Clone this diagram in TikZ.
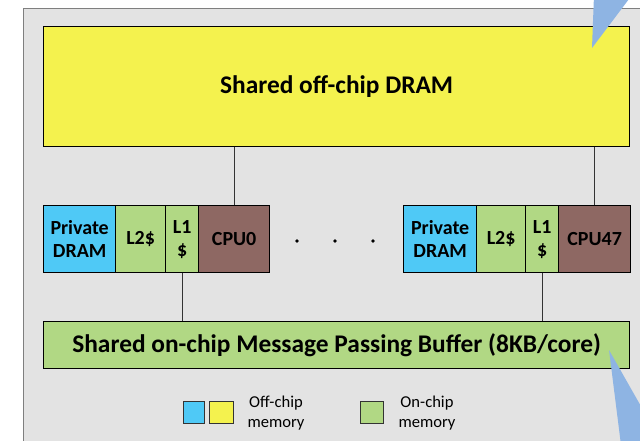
\documentclass[tikz,border=0pt]{standalone}
\usepackage{fontspec}
\setmainfont{Carlito}
\definecolor{bgray}{HTML}{E3E3E3}
\definecolor{frame}{HTML}{7F7F7F}
\definecolor{dramyellow}{HTML}{F4F24E}
\definecolor{privblue}{HTML}{4FC9F6}
\definecolor{cachegreen}{HTML}{B1D884}
\definecolor{cpubrown}{HTML}{8E6863}
\definecolor{callout}{HTML}{8EB4E3}
\tikzset{
  blk/.style={draw=black, line width=1.3pt, inner sep=0pt, anchor=north west, align=center},
  lbl/.style={font=\fontsize{20}{23}\selectfont\bfseries},
  big/.style={font=\fontsize{25.4}{29}\selectfont\bfseries},
  legtxt/.style={font=\fontsize{16.6}{20}\selectfont, align=center},
  swatch/.style={draw=black!80, line width=0.8pt, inner sep=0pt, anchor=north west},
  link/.style={draw=black!80, line width=1pt}
}
\begin{document}
\begin{tikzpicture}[x=1pt,y=-1pt]
\useasboundingbox (0,0) rectangle (640,440);
\clip (0,0) rectangle (640,440);
% chip enclosure
\fill[bgray] (23,8) rectangle (660,460);
\draw[frame, line width=1pt] (660,8) -- (23,8) -- (23,460);

% shared DRAM
\node[blk, fill=dramyellow, minimum width=586pt, minimum height=120pt, big] (dram) at (43,26) {Shared off-chip DRAM};

% core 0
\node[blk, fill=privblue, minimum width=72pt, minimum height=67pt, lbl] (pd0) at (43,205) {Private\\DRAM};
\node[blk, fill=cachegreen, minimum width=50pt, minimum height=67pt, lbl] (ltwo0) at (115,205) {L2\$};
\node[blk, fill=cachegreen, minimum width=33pt, minimum height=67pt, lbl] (lone0) at (165,205) {L1\\\$};
\node[blk, fill=cpubrown, minimum width=71pt, minimum height=67pt, lbl] (cpu0) at (198,205) {CPU0};

% core 47
\node[blk, fill=privblue, minimum width=73pt, minimum height=67pt, lbl] (pd47) at (403,205) {Private\\DRAM};
\node[blk, fill=cachegreen, minimum width=49pt, minimum height=67pt, lbl] (ltwo47) at (476,205) {L2\$};
\node[blk, fill=cachegreen, minimum width=33pt, minimum height=67pt, lbl] (lone47) at (525,205) {L1\\\$};
\node[blk, fill=cpubrown, minimum width=72pt, minimum height=67pt, lbl] (cpu47) at (558,205) {CPU47};

% ellipsis between the cores
\foreach \x/\n in {297/da,335/db,373/dc}
  \node[circle, fill=black, inner sep=0pt, minimum size=3.6pt] (\n) at (\x,241) {};

% message passing buffer
\node[blk, fill=cachegreen, minimum width=586pt, minimum height=47pt, big] (mpb) at (43,321) {Shared on-chip Message Passing Buffer (8KB/core)};

% connections
\draw[link] (cpu0.north) -- (cpu0.north |- dram.south);
\draw[link] (cpu47.north) -- (cpu47.north |- dram.south);
\draw[link] (lone0.south) -- (lone0.south |- mpb.north);
\draw[link] (lone47.south) -- (lone47.south |- mpb.north);

% legend
\node[swatch, fill=privblue, minimum width=21pt, minimum height=22pt] (swb) at (183,401) {};
\node[swatch, fill=dramyellow, minimum width=24pt, minimum height=22pt] (swy) at (209,401) {};
\node[legtxt] (offtxt) at (276,413) {Off-chip\\memory};
\node[swatch, fill=cachegreen, minimum width=23pt, minimum height=22pt] (swg) at (360,401) {};
\node[legtxt] (ontxt) at (427,413) {On-chip\\memory};

% callout pointers
\fill[callout] (592,48) -- (594,-5) -- (632,-5) -- cycle;
\fill[callout] (609,350) -- (621,445) -- (663,445) -- cycle;
\end{tikzpicture}
\end{document}
